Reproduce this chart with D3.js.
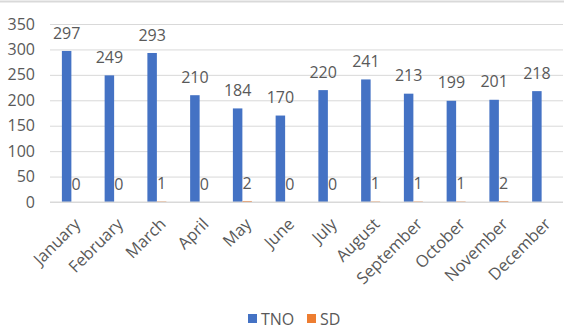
<!DOCTYPE html>
<html>
<head>
<meta charset="utf-8">
<script src="https://cdn.jsdelivr.net/npm/d3@7"></script>
<style>
  html, body { margin: 0; padding: 0; background: #fff; }
  svg { display: block; }
  text { font-family: "Open Sans", "Liberation Sans", sans-serif; fill: #595959; }
</style>
</head>
<body>
<svg id="chart" width="564" height="330"></svg>
<script>
// Monthly counts
const months = ["January", "February", "March", "April", "May", "June",
                "July", "August", "September", "October", "November", "December"];
const tnoValues = [297, 249, 293, 210, 184, 170, 220, 241, 213, 199, 201, 218];
const sdValues  = [0, 0, 1, 0, 2, 0, 0, 1, 1, 1, 2, null];
const yTicks = [0, 50, 100, 150, 200, 250, 300, 350];
const seriesNames = ["TNO", "SD"];
const seriesColors = ["#4472c4", "#ed7d31"];

const svg = d3.select("#chart");
const W = 564, H = 330;
const margin = { left: 50, right: 1, top: 24, bottom: 128 };

// frame line across the top
svg.append("line")
  .attr("x1", 0).attr("x2", W).attr("y1", 1.5).attr("y2", 1.5)
  .attr("stroke", "#d9d9d9").attr("stroke-width", 2);

const x = d3.scaleBand().domain(months)
  .range([margin.left, W - margin.right]).paddingInner(0).paddingOuter(0);
const y = d3.scaleLinear().domain([0, 350]).range([H - margin.bottom, margin.top]);

// bars occupy 2 x 9.5px inside each 42.8px band, centred
const barW = x.bandwidth() * 0.222;
const groupOff = (x.bandwidth() - 2 * barW) / 2;

// gridlines + y axis labels
const yAxis = d3.axisLeft(y).tickValues(yTicks).tickSize(-(W - margin.right - margin.left)).tickPadding(15);
const gy = svg.append("g").attr("transform", `translate(${margin.left},0)`).call(yAxis);
gy.select(".domain").remove();
gy.selectAll(".tick line").attr("stroke", "#d9d9d9").attr("stroke-width", 1);
gy.selectAll(".tick text").style("font-size", "16px").attr("fill", "#595959")
  .attr("font-family", "'Open Sans', sans-serif");

// bars
const series = [tnoValues, sdValues];
series.forEach((vals, si) => {
  const data = months.map((m, i) => ({ m, v: vals[i] })).filter(d => d.v !== null);
  svg.append("g").selectAll("rect").data(data).join("rect")
    .attr("x", d => x(d.m) + groupOff + si * barW)
    .attr("width", barW)
    .attr("y", d => y(d.v))
    .attr("height", d => y(0) - y(d.v))
    .attr("fill", seriesColors[si]);
  svg.append("g").selectAll("text").data(data).join("text")
    .attr("x", d => x(d.m) + groupOff + si * barW + barW / 2)
    .attr("y", d => y(d.v) - 18)
    .attr("dy", "0.35em")
    .attr("text-anchor", "middle")
    .style("font-size", "16px")
    .text(d => d.v);
});

// baseline
svg.append("line")
  .attr("x1", margin.left).attr("x2", W - margin.right)
  .attr("y1", y(0)).attr("y2", y(0))
  .attr("stroke", "#d9d9d9").attr("stroke-width", 1);

// rotated month labels
svg.append("g").selectAll("text").data(months).join("text")
  .attr("transform", d => `translate(${x(d) + x.bandwidth() / 2 + 6},${y(0) + 19}) rotate(-45)`)
  .attr("text-anchor", "end")
  .attr("dy", "0.35em")
  .style("font-size", "16.5px")
  .text(d => d);

// legend
const legend = svg.append("g");
const legendX = [248, 307];
seriesNames.forEach((name, i) => {
  legend.append("rect").attr("x", legendX[i]).attr("y", 314).attr("width", 9).attr("height", 9)
    .attr("fill", seriesColors[i]);
  legend.append("text").attr("x", legendX[i] + 13).attr("y", 324.5)
    .style("font-size", "16px").text(name);
});
</script>
</body>
</html>
